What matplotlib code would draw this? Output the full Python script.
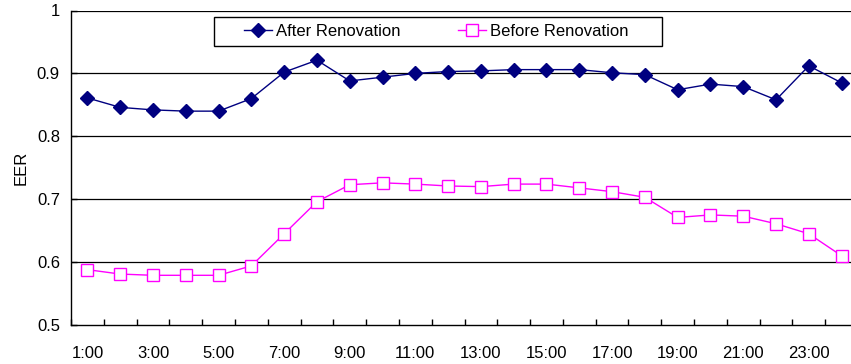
import numpy as np
import matplotlib
matplotlib.use("Agg")
import matplotlib.pyplot as plt
from matplotlib.patches import Rectangle

plt.rcParams['font.family'] = ['Liberation Sans', 'DejaVu Sans']

hours = [f"{h}:00" for h in range(1, 25)]
after_renovation = [0.861, 0.846, 0.842, 0.840, 0.840, 0.860, 0.902, 0.921,
                    0.888, 0.894, 0.900, 0.903, 0.904, 0.906, 0.906, 0.906,
                    0.901, 0.898, 0.874, 0.883, 0.879, 0.858, 0.912, 0.885]
before_renovation = [0.588, 0.581, 0.579, 0.579, 0.579, 0.594, 0.645, 0.696,
                     0.723, 0.726, 0.724, 0.721, 0.720, 0.724, 0.724, 0.718,
                     0.712, 0.703, 0.671, 0.675, 0.673, 0.661, 0.645, 0.610]
y_ticks = [0.5, 0.6, 0.7, 0.8, 0.9, 1.0]
y_labels = ["0.5", "0.6", "0.7", "0.8", "0.9", "1"]

W, H = 851, 364
FS = 12

fig = plt.figure(figsize=(W / 100, H / 100), dpi=100)
# plot area runs a little past the right edge of the figure
ax = fig.add_axes([71 / W, 39 / H, 787 / W, 314.5 / H])

x = np.arange(1, len(hours) + 1)
ax.plot(x, after_renovation, color='#000080', lw=1.0, marker='D',
        markersize=7, markerfacecolor='#000080', markeredgecolor='#000080',
        label='After Renovation', zorder=3)
ax.plot(x, before_renovation, color='#FF00FF', lw=1.0, marker='s',
        markersize=8.5, markerfacecolor='white', markeredgecolor='#FF00FF',
        markeredgewidth=1.0, label='Before Renovation', zorder=3)

ax.set_xlim(0.5, 24.5)
ax.set_ylim(0.5, 1.0)
ax.set_yticks(y_ticks)
ax.set_yticklabels(y_labels)
ax.set_xticks(x[::2])
ax.set_xticklabels(hours[::2])
ax.set_xticks(np.arange(0.5, 25, 1), minor=True)
ax.tick_params(axis='x', which='major', length=0, pad=15, labelsize=FS)
ax.tick_params(axis='x', which='minor', length=4, direction='in', width=1)
ax.tick_params(axis='y', length=4, direction='in', width=1, labelsize=FS, pad=8)

for yv in y_ticks[1:]:
    ax.axhline(yv, color='black', lw=0.9, zorder=1)

for side in ('top', 'right'):
    ax.spines[side].set_visible(False)
for side in ('left', 'bottom'):
    ax.spines[side].set_color('black')
    ax.spines[side].set_linewidth(1.0)

ax.set_ylabel('EER', fontsize=FS, labelpad=6)

# legend box drawn separately so its size can be set directly
ax.add_patch(Rectangle((214 / W, 1 - 46 / H), 448 / W, 29 / H,
                       transform=fig.transFigure, facecolor='white',
                       edgecolor='black', lw=1.0, zorder=4, clip_on=False))
leg = ax.legend(loc='center left', bbox_to_anchor=(244 / W, 1 - 31.5 / H),
                bbox_transform=fig.transFigure, ncol=2, frameon=False,
                fontsize=FS, handlelength=1.7, columnspacing=3.4,
                borderpad=0, handletextpad=0.25, borderaxespad=0)
leg.set_zorder(5)

fig.savefig('out.png', dpi=100)
